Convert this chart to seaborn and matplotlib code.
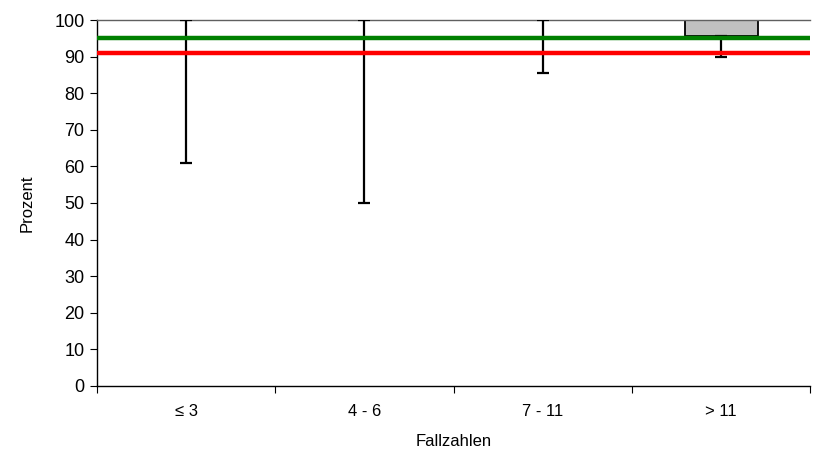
import numpy as np
import pandas as pd
import matplotlib
matplotlib.use("Agg")
import matplotlib.pyplot as plt
import seaborn as sns

# data
categories = ["≤ 3", "4 - 6", "7 - 11", "> 11"]
box_upper = [100, 100, 100, 100]
box_lower = [100, 100, 100, 95.5]
ci_lower = [61, 50, 85.5, 90]
target_green = 95
target_red = 91

sns.set_theme(style="white")
plt.rcParams["font.family"] = ["Liberation Sans", "DejaVu Sans"]
plt.rcParams.update({
    "text.color": "black", "axes.labelcolor": "black",
    "xtick.color": "black", "ytick.color": "black",
})

df = pd.DataFrame({
    "Fallzahlen": categories,
    "height": np.array(box_upper) - np.array(box_lower),
    "bottom": box_lower,
})

fig = plt.figure(figsize=(8.21, 4.55), dpi=100)
ax = fig.add_axes([0.118, 0.152, 0.869, 0.804])

sns.barplot(data=df, x="Fallzahlen", y="height", bottom=df["bottom"],
            color="#c0c0c0", edgecolor="black", linewidth=1.3,
            width=0.41, saturation=1, ax=ax, zorder=2)

# confidence intervals
xpos = np.arange(len(categories))
lower = np.array(box_lower) - np.array(ci_lower)
ax.errorbar(xpos, box_lower, yerr=[lower, np.zeros(len(xpos))],
            fmt="none", ecolor="black", elinewidth=1.6, capsize=4.5,
            capthick=1.6, zorder=3)

# reference lines
ax.axhline(target_green, color="#008000", linewidth=3.2, zorder=4)
ax.axhline(target_red, color="#ff0000", linewidth=3.2, zorder=4)

ax.set_ylim(0, 100)
ax.set_xlim(-0.5, len(categories) - 0.5)
ax.set_yticks(range(0, 101, 10))
ax.set_xticks(xpos)
ax.set_xticklabels(categories)
ax.set_xticks(np.arange(-0.5, len(categories), 1.0), minor=True)
ax.tick_params(axis="x", which="major", length=0, pad=13, labelsize=12)
ax.tick_params(axis="x", which="minor", length=5, width=0.8, direction="out",
               color="black", bottom=True)
ax.tick_params(axis="y", length=5, width=0.8, direction="out", color="black",
               left=True, labelsize=13, pad=4)

for side in ["left", "bottom"]:
    ax.spines[side].set_color("black")
    ax.spines[side].set_linewidth(1.0)
ax.spines["top"].set_color("#606060")
ax.spines["top"].set_linewidth(1.0)
ax.spines["right"].set_visible(False)

ax.set_xlabel("Fallzahlen", fontsize=12, labelpad=11)
ax.set_ylabel("Prozent", fontsize=12, labelpad=14)

fig.savefig("out.png", dpi=100)
